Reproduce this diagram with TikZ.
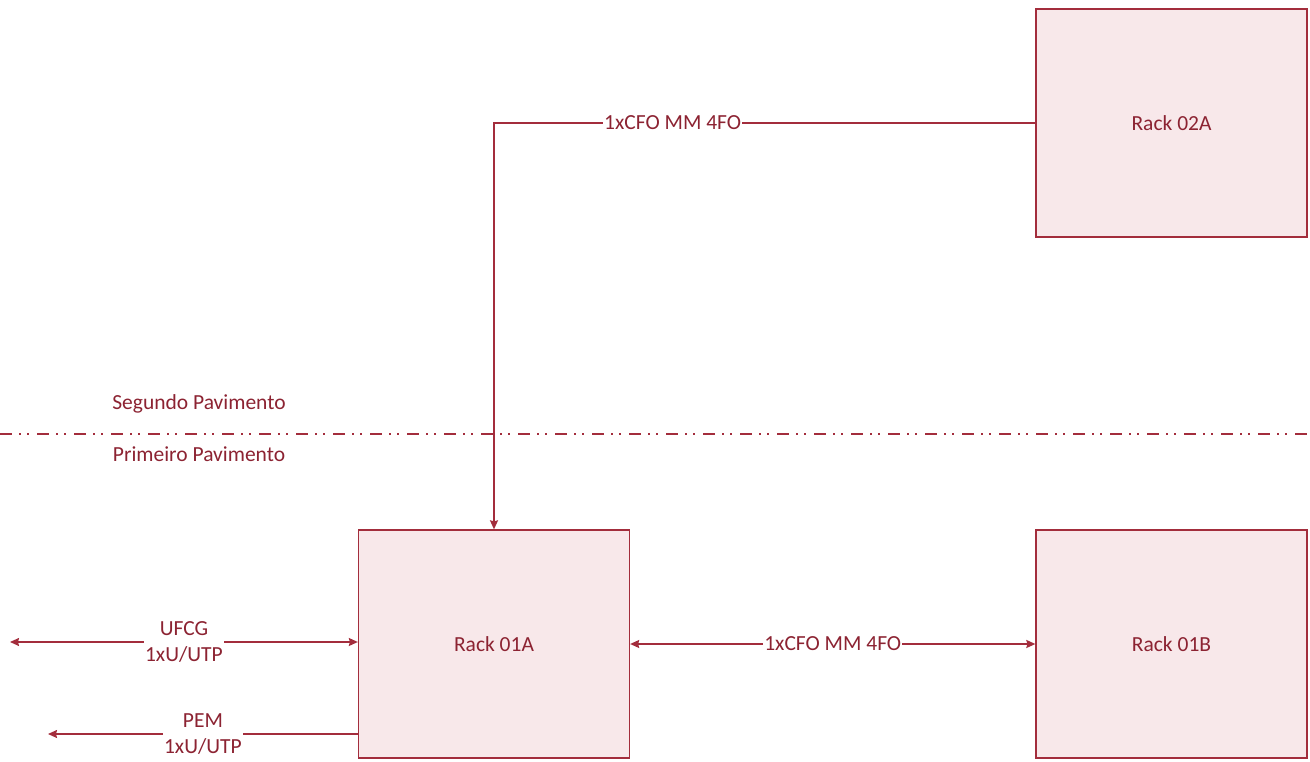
\documentclass[tikz,border=0pt]{standalone}
\usepackage{fontspec}
\setmainfont{Carlito}
\usetikzlibrary{arrows.meta}

\definecolor{rackline}{RGB}{163,45,60}
\definecolor{racktext}{RGB}{140,35,50}
\definecolor{rackfill}{RGB}{248,232,234}

\begin{document}
\begin{tikzpicture}[x=1pt, y=-1pt,
    rack/.style={draw=rackline, line width=1.3pt, fill=rackfill,
        minimum width=271pt, minimum height=228pt, inner sep=0pt,
        text=racktext, font=\fontsize{21.5}{26}\selectfont},
    cable/.style={draw=rackline, line width=1.5pt},
    arrow/.style={cable, -{Stealth[length=9pt, width=8pt, inset=1pt]}},
    twoway/.style={cable, {Stealth[length=9pt, width=8pt, inset=1pt]}-{Stealth[length=9pt, width=8pt, inset=1pt]}},
    tag/.style={fill=white, text=racktext, inner sep=1pt, align=center,
        font=\fontsize{21.5}{26}\selectfont},
    floor/.style={text=racktext, inner sep=0pt,
        font=\fontsize{21.5}{26}\selectfont}
]
    \useasboundingbox (0,0) rectangle (1310,762);

    \node[rack] (rack02a) at (1171.5,123) {Rack 02A};
    \node[rack] (rack01a) at (494,644) {Rack 01A};
    \node[rack] (rack01b) at (1171.5,644) {Rack 01B};

    % divisao entre pavimentos
    \coordinate (floorleft) at (0,434);
    \coordinate (floorright) at (1310,434);
    \draw[rackline, line width=2pt,
        dash pattern=on 12pt off 7pt on 2pt off 6pt on 2pt off 8pt]
        (floorleft) -- (floorright);
    \node[floor] (segundo) at (199,404) {Segundo Pavimento};
    \node[floor] (primeiro) at (199,454) {Primeiro Pavimento};

    % fibra entre os pavimentos
    \draw[arrow] (rack02a.west) -| node[tag, pos=.335] {1xCFO MM 4FO}
        (rack01a.north);
    \draw[twoway] (rack01a.east) -- node[tag, pos=.5] {1xCFO MM 4FO}
        (rack01b.west);

    % saidas externas
    \coordinate (ufcgend) at (10,642);
    \coordinate (pemend) at (48,734);
    \draw[twoway] (ufcgend) -- node[tag] {UFCG\\1xU/UTP}
        (ufcgend -| rack01a.west);
    \draw[arrow] (pemend -| rack01a.west) -- node[tag] {PEM\\1xU/UTP}
        (pemend);
\end{tikzpicture}
\end{document}
